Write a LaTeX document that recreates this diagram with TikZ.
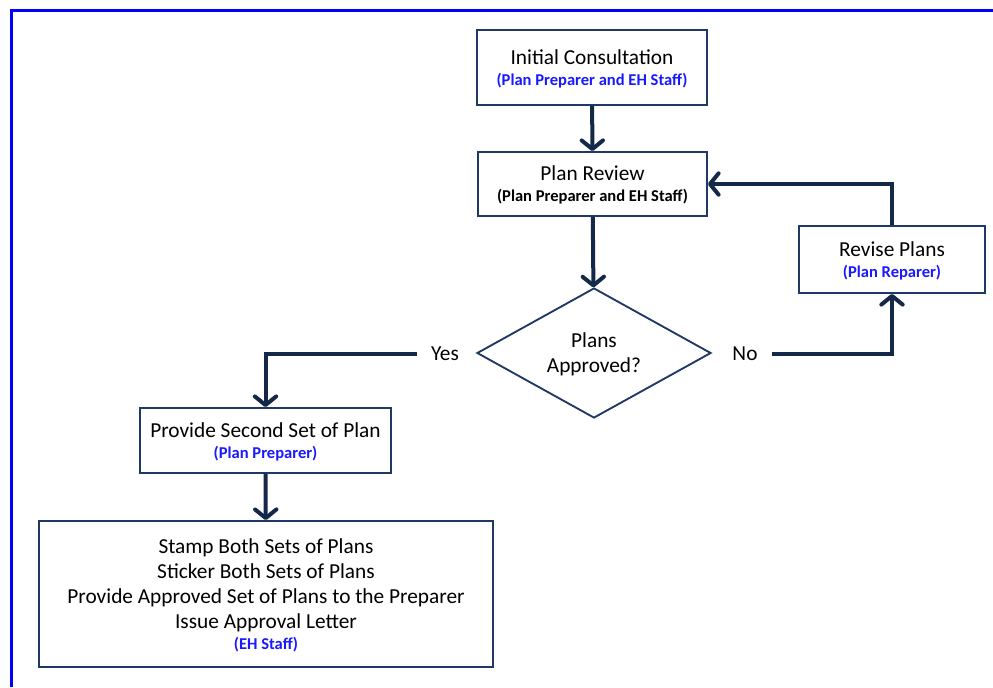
\documentclass[tikz,border=0pt]{standalone}
\usepackage{fontspec}
\setmainfont{Carlito}
\usetikzlibrary{arrows.meta,shapes.geometric}
\definecolor{frameblue}{RGB}{0,0,255}
\definecolor{boxline}{RGB}{31,56,100}
\definecolor{flowline}{RGB}{20,40,72}
\definecolor{roleblue}{RGB}{25,25,255}
\newcommand\rolebold[1]{{\bfseries\fontsize{12.4}{14}\selectfont #1}}
\newcommand\roleline[1]{\\[-3pt]{\color{roleblue}\rolebold{#1}}}
\tikzset{
  stepbox/.style={draw=boxline,line width=1.4pt,align=center,inner sep=0pt,
    font=\fontsize{16}{18.75}\selectfont,text depth=-5.5pt},
  decision/.style={diamond,draw=boxline,line width=1.4pt,align=center,inner sep=0pt,
    aspect=1.8,minimum width=175.5pt,minimum height=97.5pt,font=\fontsize{16}{18.75}\selectfont,
    text depth=-4pt},
  answer/.style={inner sep=10.5pt,font=\fontsize{16}{18.75}\selectfont},
  flow/.style={draw=flowline,line width=3pt,-{Straight Barb[length=6.5pt,width=16pt,round]}}
}
\begin{document}
\begin{tikzpicture}[x=0.75pt,y=-0.75pt]
  \useasboundingbox (0,0) rectangle (993,687);
  \draw[frameblue,line width=2.4pt] (11.5,687) -- (11.5,10.5) -- (993,10.5);

  \node[stepbox,minimum width=172.5pt,minimum height=56.25pt] (consult) at (592,67.5)
    {Initial Consultation\roleline{(Plan Preparer and EH Staff)}};
  \node[stepbox,minimum width=171.75pt,minimum height=48pt] (review) at (592.5,184)
    {Plan Review\\[-3pt]\rolebold{(Plan Preparer and EH Staff)}};
  \node[decision] (approved) at (594,353) {Plans\\Approved?};
  \node[stepbox,minimum width=139.5pt,minimum height=50.25pt] (revise) at (892,259.5)
    {Revise Plans\roleline{(Plan Reparer)}};
  \node[stepbox,minimum width=188.25pt,minimum height=48.75pt] (second) at (265.5,440.5)
    {Provide Second Set of Plan\roleline{(Plan Preparer)}};
  \node[stepbox,minimum width=340.5pt,minimum height=109.5pt] (stamp) at (266,594)
    {Stamp Both Sets of Plans\\Sticker Both Sets of Plans\\
     Provide Approved Set of Plans to the Preparer\\Issue Approval Letter\roleline{(EH Staff)}};
  \node[answer] (yes) at (445,354) {Yes};
  \node[answer] (no) at (745,354) {No};

  \draw[flow] (consult) -- (review);
  \draw[flow] (review) -- (approved);
  \draw[flow] (yes.west) -| (second.north);
  \draw[flow] (no.east) -| (revise.south);
  \draw[flow] (revise.north) |- (review.east);
  \draw[flow] (second) -- (stamp);
\end{tikzpicture}
\end{document}
